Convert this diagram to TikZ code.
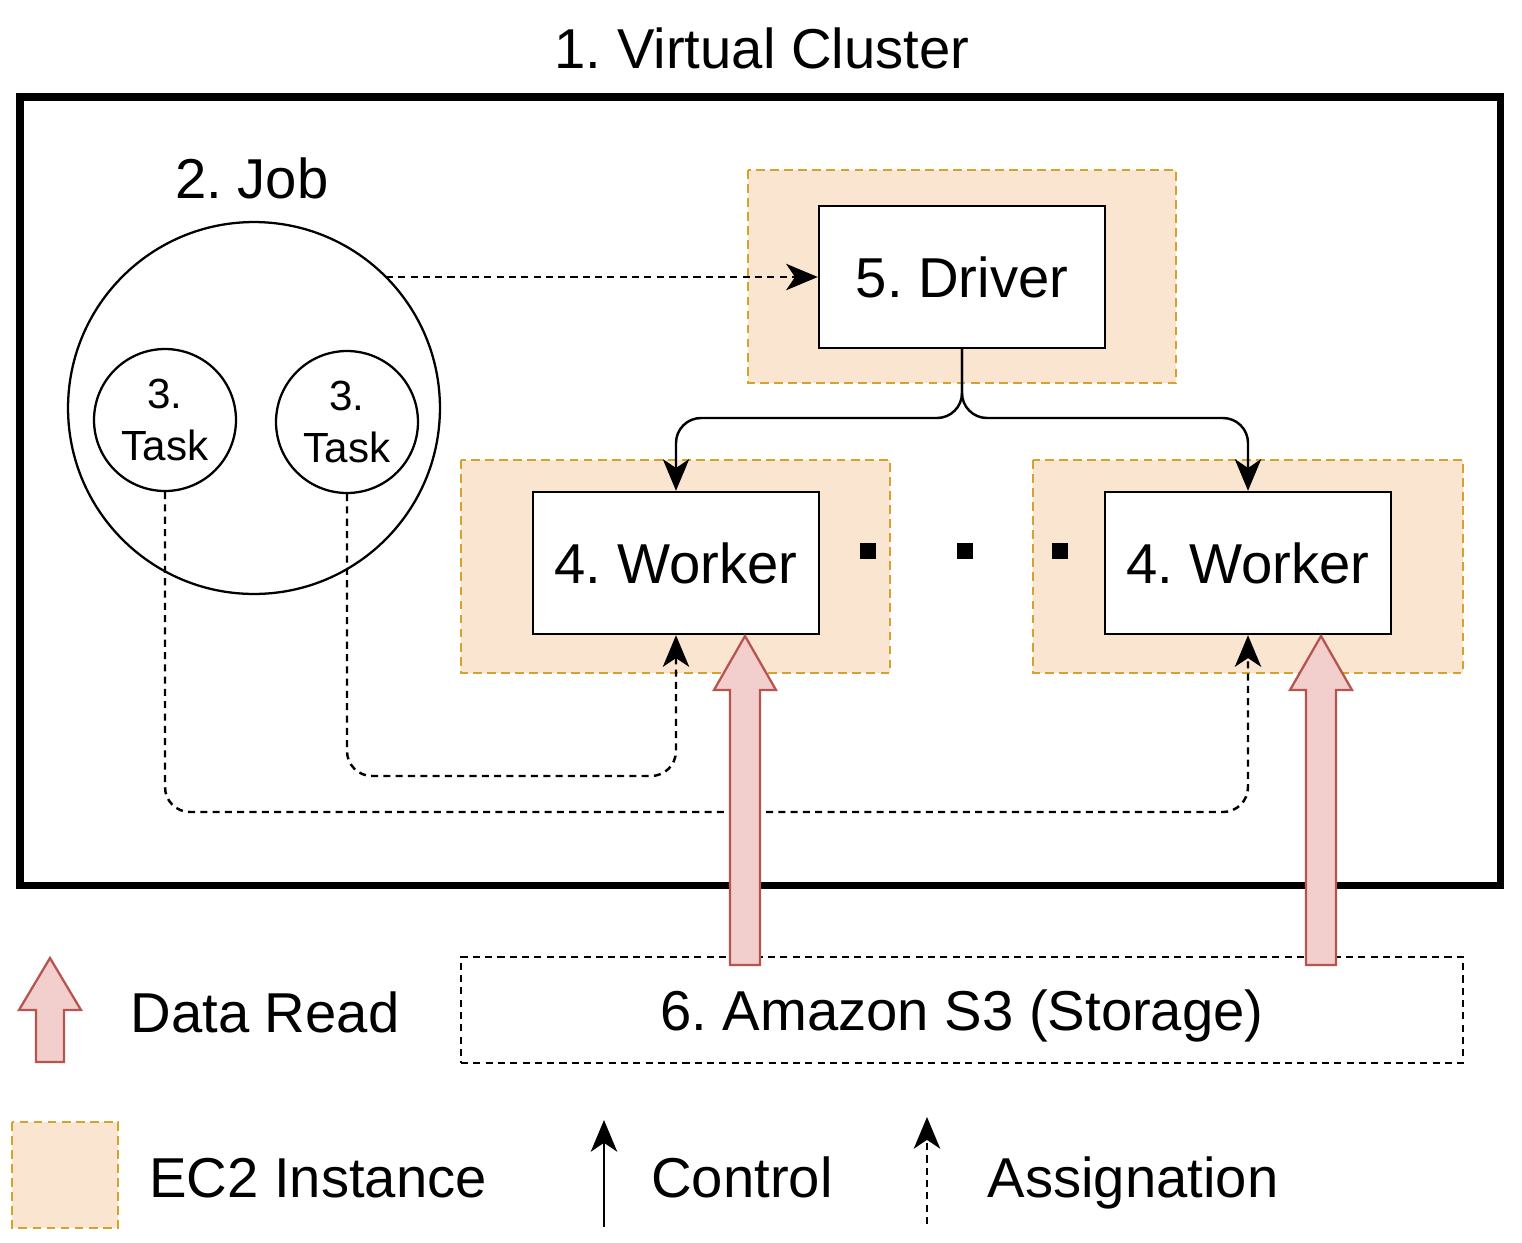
\documentclass[tikz,border=0pt]{standalone}
\usepackage{fontspec}
\setmainfont{Liberation Sans}
\frenchspacing
\usetikzlibrary{arrows.meta}
\definecolor{ecfill}{HTML}{FAE6D0}
\definecolor{ecline}{HTML}{D6A12F}
\definecolor{readfill}{HTML}{F2CFCC}
\definecolor{readline}{HTML}{B85450}
\tikzset{
    every node/.style={font=\fontsize{32}{36}\selectfont},
    ec2/.style={fill=ecfill, draw=ecline, dash pattern=on 5pt off 3pt, line width=1.3pt},
    box/.style={draw, fill=white, line width=1.4pt},
    task/.style={circle, draw, line width=1.3pt, minimum size=2.84cm,
        align=center, font=\fontsize{24}{26}\selectfont},
    ctrl/.style={line width=1.4pt, -{Stealth[length=18pt,width=15pt,inset=5pt]},
        rounded corners=0.5cm},
    assign/.style={ctrl, dash pattern=on 4pt off 3pt},
    read/.style={fill=readfill, draw=readline, line width=1.3pt}
}
\begin{document}
\begin{tikzpicture}[x=0.02cm,y=-0.02cm]
	\useasboundingbox (0,0) rectangle (1522,1242);
	\node (title) at (762,48) {1. Virtual Cluster};
	\draw[line width=4pt] (20,97) rectangle (1500,885);
	\node (joblabel) at (252,178) {2. Job};
	\node (job) [circle, draw, line width=1.3pt, minimum size=7.44cm] at (254,408) {};
	\node (t1) [task] at (165,420) {3.\\[4pt]Task};
	\node (t2) [task] at (347,422) {3.\\[4pt]Task};

	\draw[ec2] (748,170) rectangle (1176,383);
	\draw[ec2] (461,460) rectangle (890,673);
	\draw[ec2] (1033,460) rectangle (1463,673);
	\node (drv) [box, minimum width=5.72cm, minimum height=2.84cm] at (962,277) {5. Driver};
	\node (w1) [box, minimum width=5.72cm, minimum height=2.84cm] at (676,563) {4. Worker};
	\node (w2) [box, minimum width=5.72cm, minimum height=2.84cm] at (1248,563) {4. Worker};
	\foreach \x in {868,965,1060}
		\fill (\x-8,543) rectangle (\x+8,559);

	\draw[ctrl] (drv.south) |- (676,418) -- (w1.north);
	\draw[ctrl] (drv.south) |- (1248,418) -- (w2.north);
	\draw[assign] (386,277) -- (drv.west);
	\draw[assign] (t2.south) |- (676,776) -- (w1.south);
	\draw[assign] (t1.south) |- (1248,812) -- (w2.south);

	\node (s3) [draw, dash pattern=on 4pt off 3pt, line width=1.3pt, minimum width=20.04cm,
		minimum height=2.12cm] at (962,1010) {};
	\node (s3text) [anchor=base] at (962,1030) {6. Amazon S3 (Storage)};
	\foreach \x in {745,1321}
		\draw[read] (\x-15,965) -- (\x-15,690) -- (\x-31,690) -- (\x,636)
			-- (\x+31,690) -- (\x+15,690) -- (\x+15,965) -- cycle;

	% legend
	\draw[read] (36,1062) -- (36,1010) -- (19,1010) -- (50,958) -- (81,1010)
		-- (64,1010) -- (64,1062) -- cycle;
	\node (lread) [anchor=base] at (265,1032) {Data Read};
	\draw[ec2] (12,1122) rectangle (118,1228);
	\node (lec2) [anchor=base] at (318,1197) {EC2 Instance};
	\coordinate (c0) at (604,1227);
	\coordinate (c1) at (604,1120);
	\draw[ctrl] (c0) -- (c1);
	\node (lctrl) [anchor=base] at (742,1197) {Control};
	\coordinate (a0) at (927,1224);
	\coordinate (a1) at (927,1117);
	\draw[assign] (a0) -- (a1);
	\node (lassign) [anchor=base] at (1133,1197) {Assignation};
\end{tikzpicture}
\end{document}
